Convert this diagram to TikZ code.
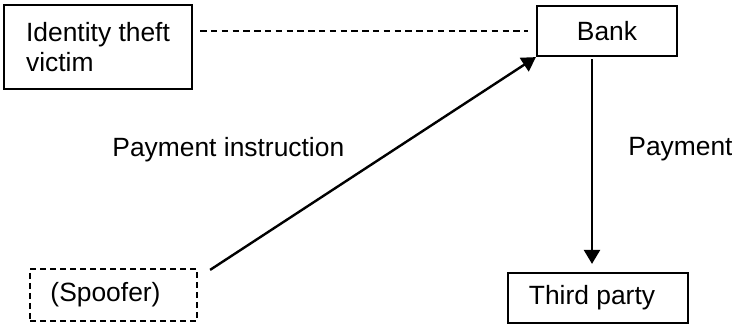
\documentclass[tikz,border=0pt]{standalone}
\usepackage{fontspec}
\setmainfont{Liberation Sans}
\usepackage{tikz}
\usetikzlibrary{arrows.meta}

\begin{document}
\begin{tikzpicture}[x=0.5pt,y=-0.5pt,
    font=\fontsize{13.2}{15}\selectfont,
    party/.style={draw, line width=1.1pt, inner sep=0pt},
    hidden/.style={party, dash pattern=on 3pt off 2pt},
    flow/.style={line width=1.2pt, -{Triangle[length=7pt,width=8pt]}}]
                        \useasboundingbox (0,0) rectangle (732,325);
                        % Nodes
                        \node[party, minimum width=94pt, minimum height=42pt, align=left] (victim) at (98,47) {Identity theft\\victim};
                        \node[party, minimum width=70pt, minimum height=25pt] (bank) at (607,31) {Bank};
                        \node[hidden, minimum width=83.5pt, minimum height=26pt] (spoofer) at (113.5,295) {\hspace{-8pt}(Spoofer)};
                        \node[party, minimum width=90pt, minimum height=25pt] (third) at (598,298) {\hspace{-6pt}Third party};
                        \node[anchor=base west, inner sep=0pt] (instr) at (112,157) {Payment instruction};
                        \node[anchor=base west, inner sep=0pt] (pay) at (628,156) {Payment};

                        % Edges
                        \draw[dash pattern=on 3.2pt off 2.2pt, line width=0.9pt, shorten <=3.5pt, shorten >=4pt] (victim.east |- bank.west) -- (bank.west);
                        \draw[flow] ([xshift=6pt,yshift=-1pt]spoofer.north east) -- (bank.south west);
                        \draw[flow, shorten >=4pt] ([xshift=-7.5pt,yshift=-1pt]bank.south) -- ([xshift=-3pt]third.north);
                    \end{tikzpicture}
\end{document}
